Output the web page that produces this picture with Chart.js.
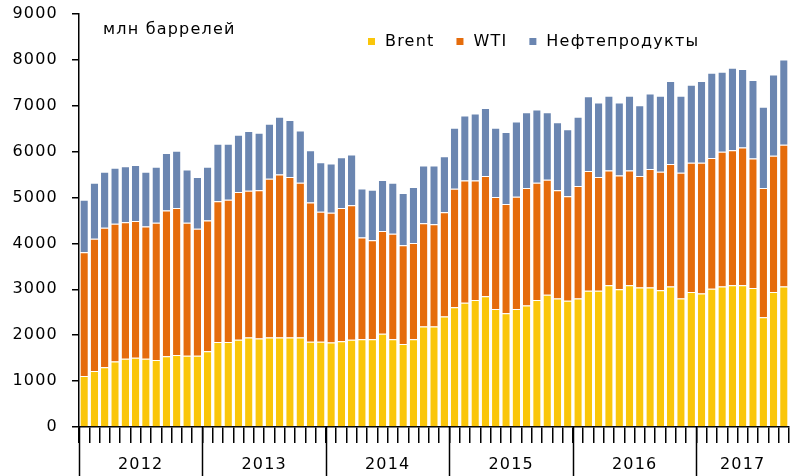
<!DOCTYPE html>
<html>
<head>
<meta charset="utf-8">
<script src="https://cdn.jsdelivr.net/npm/chart.js@4"></script>
<style>
  html, body { margin: 0; padding: 0; background: #fff; }
</style>
</head>
<body>
<canvas id="oilChart" width="790" height="476"></canvas>
<script>
// Years on the axis and how many months each one has
const years = ['2012', '2013', '2014', '2015', '2016', '2017'];
const monthsInYear = [12, 12, 12, 12, 12, 9];

// Stocks, mln barrels (monthly, Jan 2012 - Sep 2017)
const brent = [
    1110, 1220, 1300, 1430, 1490, 1510, 1490, 1460, 1540, 1570, 1550, 1550,
    1650, 1850, 1850, 1900, 1950, 1930, 1950, 1950, 1950, 1950, 1860, 1860,
    1840, 1870, 1900, 1910, 1910, 2030, 1910, 1810, 1910, 2190, 2190, 2410,
    2610, 2710, 2770, 2850, 2570, 2480, 2570, 2650, 2770, 2880, 2800, 2750,
    2800, 2970, 2970, 3090, 3000, 3090, 3040, 3040, 2980, 3060, 2800, 2940,
    2910, 3010, 3060, 3090, 3090, 3030, 2390, 2940, 3060
];
const wti = [
    2700, 2880, 3040, 3000, 2970, 2980, 2880, 2990, 3180, 3200, 2900, 2770,
    2850, 3070, 3100, 3220, 3200, 3230, 3460, 3550, 3500, 3370, 3030, 2830,
    2830, 2900, 2930, 2220, 2160, 2240, 2300, 2150, 2100, 2250, 2230, 2270,
    2580, 2660, 2600, 2620, 2440, 2380, 2450, 2560, 2550, 2510, 2360, 2280,
    2450, 2610, 2480, 2500, 2480, 2500, 2430, 2580, 2580, 2670, 2740, 2820,
    2850, 2850, 2940, 2940, 3000, 2820, 2820, 2970, 3090
];
const products = [
    1140, 1220, 1220, 1220, 1220, 1220, 1190, 1220, 1250, 1250, 1160, 1130,
    1170, 1250, 1220, 1250, 1300, 1250, 1200, 1260, 1240, 1140, 1140, 1080,
    1070, 1110, 1110, 1070, 1100, 1110, 1110, 1140, 1220, 1260, 1280, 1220,
    1330, 1420, 1460, 1480, 1510, 1570, 1640, 1650, 1600, 1470, 1480, 1460,
    1510, 1630, 1620, 1630, 1590, 1630, 1540, 1650, 1660, 1810, 1680, 1700,
    1780, 1860, 1740, 1800, 1710, 1710, 1770, 1770, 1860
];

const seriesNames = ['Brent', 'WTI', 'Нефтепродукты'];
const unitLabel = 'млн баррелей';
const yTicks = [0, 1000, 2000, 3000, 4000, 5000, 6000, 7000, 8000, 9000];

// category labels: one per month
const labels = [];
years.forEach((y, i) => {
    for (let m = 1; m <= monthsInYear[i]; m++) labels.push(y + '-' + m);
});

const FONT = '"DejaVu Sans", sans-serif';
const SPACING = '1.2px';
const colors = ['#FAC60A', '#E56C0C', '#6B86B1'];

// Draws year separators / labels under the axis, the unit note and the legend
const decorPlugin = {
    id: 'decor',
    beforeDraw(chart) {
        // the original text is a bit wider than the font, spread it out
        chart.ctx.letterSpacing = SPACING;
    },
    afterDraw(chart) {
        const ctx = chart.ctx;
        const x = chart.scales.x;
        const step = x.getPixelForValue(1) - x.getPixelForValue(0);
        const bottom = chart.chartArea.bottom;

        ctx.save();
        ctx.letterSpacing = SPACING;
        ctx.strokeStyle = '#000';
        ctx.lineWidth = 1.5;
        ctx.fillStyle = '#000';
        ctx.font = '16px ' + FONT;
        ctx.textAlign = 'center';
        ctx.textBaseline = 'middle';

        let start = 0;
        years.forEach((y, i) => {
            const end = start + monthsInYear[i] - 1;
            const edge = Math.round(x.getPixelForValue(start) - step / 2) + 0.5;
            ctx.beginPath();
            ctx.moveTo(edge, bottom);
            ctx.lineTo(edge, chart.height);
            ctx.stroke();
            const mid = (x.getPixelForValue(start) + x.getPixelForValue(end)) / 2;
            ctx.fillText(y, mid, 465);
            start = end + 1;
        });

        // unit note
        ctx.textAlign = 'left';
        ctx.fillText(unitLabel, 103, 30);

        // legend
        let lx = 368;
        chart.data.datasets.forEach(ds => {
            ctx.fillStyle = ds.backgroundColor;
            ctx.fillRect(lx, 38, 7, 7);
            ctx.fillStyle = '#000';
            ctx.fillText(ds.label, lx + 17, 42);
            lx += 17 + ctx.measureText(ds.label).width + 22;
        });
        ctx.restore();
    }
};

const ctx = document.getElementById('oilChart').getContext('2d');
const oilChart = new Chart(ctx, {
    type: 'bar',
    data: {
        labels: labels,
        datasets: [brent, wti, products].map((vals, i) => ({
            label: seriesNames[i],
            data: vals,
            backgroundColor: colors[i],
            borderColor: '#fff',
            borderWidth: { top: 1, left: 0, right: 0, bottom: 0 },
            barPercentage: 0.72,
            categoryPercentage: 1.0
        }))
    },
    options: {
        responsive: false,
        animation: false,
        layout: { padding: { top: 14, right: 1, left: 0, bottom: 0 } },
        plugins: {
            legend: { display: false },
            tooltip: { enabled: false }
        },
        scales: {
            x: {
                stacked: true,
                offset: true,
                grid: {
                    display: true,
                    offset: true,
                    drawOnChartArea: false,
                    drawTicks: true,
                    tickLength: 16,
                    color: '#000',
                    lineWidth: 1.5
                },
                border: { display: true, color: '#000', width: 1.5 },
                ticks: { display: false, autoSkip: false },
                afterFit: s => { s.height = 49; }
            },
            y: {
                stacked: true,
                min: 0,
                max: 9000,
                afterBuildTicks: s => { s.ticks = yTicks.map(v => ({ value: v })); },
                grid: {
                    drawOnChartArea: false,
                    drawTicks: true,
                    tickLength: 7,
                    color: '#000',
                    lineWidth: 1.5
                },
                border: { display: true, color: '#000', width: 1.5 },
                ticks: {
                    color: '#000',
                    padding: 14,
                    font: { family: FONT, size: 16 },
                    callback: v => String(v)
                },
                afterFit: s => { s.width = 79; s.paddingTop = 0; s.paddingBottom = 0; }
            }
        }
    },
    plugins: [decorPlugin]
});
</script>
</body>
</html>
